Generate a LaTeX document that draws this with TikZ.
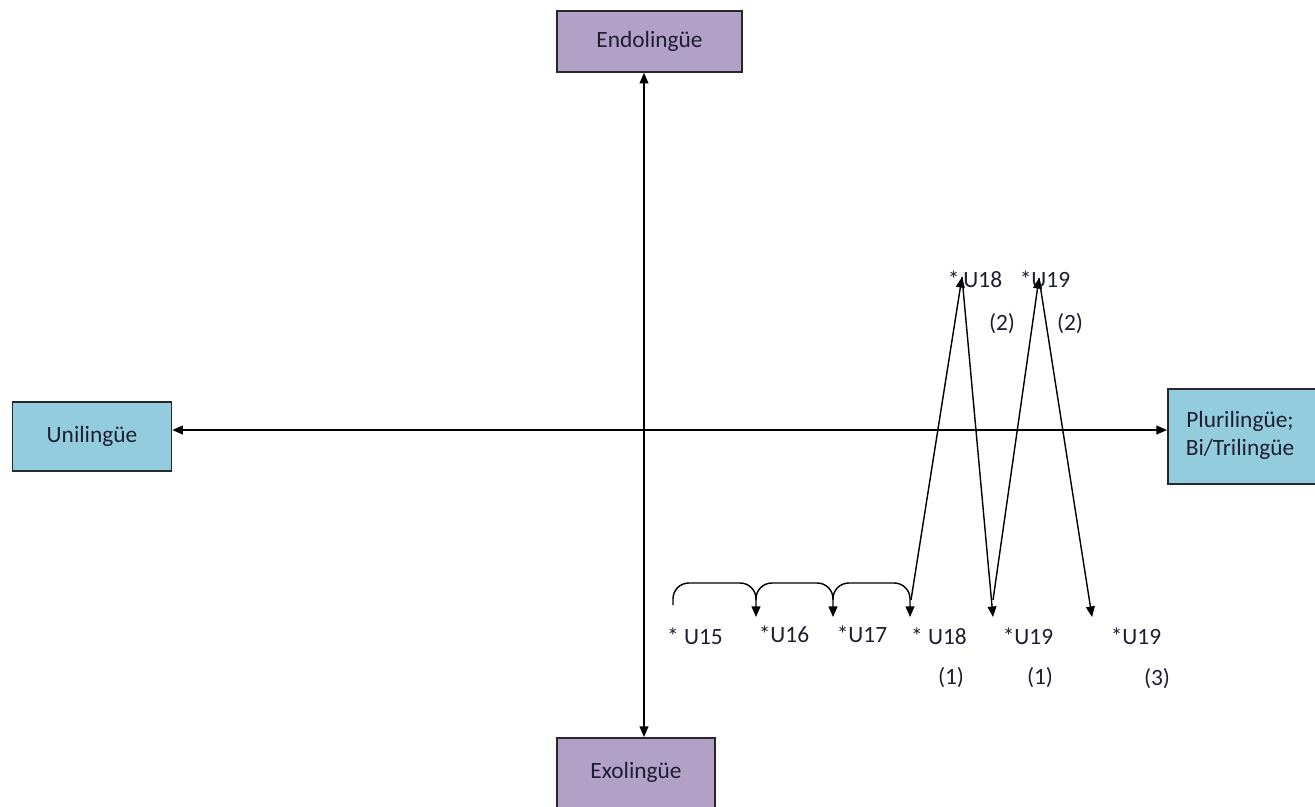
\documentclass[tikz,border=0pt]{standalone}
\usepackage{fontspec}
\setmainfont{Carlito}
\usetikzlibrary{arrows.meta}
\definecolor{boxpurple}{RGB}{178,161,199}
\definecolor{boxblue}{RGB}{147,205,221}
\definecolor{boxline}{RGB}{40,40,40}
\definecolor{labtext}{RGB}{30,30,50}
\begin{document}
\begin{tikzpicture}[x=0.02cm,y=-0.02cm,
  every node/.style={font=\fontsize{13.3}{16}\selectfont, text=labtext},
  pole/.style={draw=boxline, line width=0.9pt, inner sep=0pt},
  axis/.style={line width=0.8pt, {Triangle[length=6pt,width=5pt]}-{Triangle[length=6pt,width=5pt]}},
  hop/.style={line width=0.8pt, -{Triangle[length=6pt,width=5pt]}},
  tag/.style={inner sep=0pt}]
\clip (0,0) rectangle (1315,806);

% four poles
\node[pole, fill=boxpurple, minimum width=185*0.02cm, minimum height=61*0.02cm] (endo) at (649.5,41.5) {Endolingüe};
\node[pole, fill=boxpurple, minimum width=158*0.02cm, minimum height=100*0.02cm, anchor=north] (exo) at (636,737) {};
\node[tag] at (636,772) {Exolingüe};
\node[pole, fill=boxblue, minimum width=159*0.02cm, minimum height=69*0.02cm] (uni) at (92,436.5) {Unilingüe};
\node[pole, fill=boxblue, minimum width=150*0.02cm, minimum height=95*0.02cm, anchor=north west] (pluri) at (1167,388) {};
\node[tag, align=center] at (1240,435) {Plurilingüe;\\Bi/Trilingüe};

% axes
\draw[axis] (endo.south -| 644,0) -- (exo.north -| 644,0);
\draw[axis] (uni.east |- 0,430) -- (pluri.west |- 0,430);

% unit labels
\node[tag] (u15) at (695,636) {* U15};
\node[tag] (u16) at (784,634) {*U16};
\node[tag] (u17) at (862,634) {*U17};
\node[tag] (u18a) at (939,636) {* U18};
\node[tag] (u19a) at (1028,636) {*U19};
\node[tag] (u19c) at (1136,636) {*U19};
\node[tag] at (951,678) {(1)};
\node[tag] at (1040,678) {(1)};
\node[tag] at (1157,679) {(3)};
\node[tag] (u18b) at (975,279) {*\,U18};
\node[tag] (u19b) at (1045,279) {*U19};
\node[tag] at (1002,324) {(2)};
\node[tag] at (1070,324) {(2)};

% arrow end points
\coordinate (s15) at (673,605);
\coordinate (t16) at (756,617);
\coordinate (t17) at (833,617);
\coordinate (t18) at (910,617);
\coordinate (s18) at (911,600);
\coordinate (top18) at (962,277);
\coordinate (t19a) at (993,617);
\coordinate (s19a) at (993,600);
\coordinate (top19) at (1039,278);
\coordinate (t19c) at (1092,617);

% steps along the lower row
\draw[hop, rounded corners=9] (s15) -- (673,583) -- (756,583) -- (t16);
\draw[hop, rounded corners=9] (756,600) -- (756,583) -- (833,583) -- (t17);
\draw[hop, rounded corners=9] (833,600) -- (833,583) -- (910,583) -- (t18);

% zigzag between the two rows
\draw[hop] (s18) -- (top18);
\draw[hop] (top18) -- (t19a);
\draw[hop] (s19a) -- (top19);
\draw[hop] (top19) -- (t19c);
\end{tikzpicture}
\end{document}
